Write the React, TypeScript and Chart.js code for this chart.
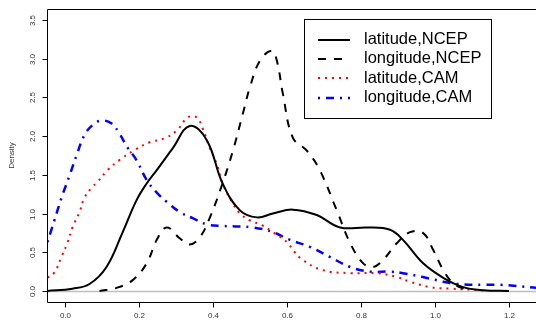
import React, { useEffect, useRef } from "react";
import { Chart, registerables } from "chart.js";

Chart.register(...registerables);

// ---- data ----
const latNcepX = [-0.05, 0.019, 0.065, 0.111, 0.154, 0.192, 0.22, 0.247, 0.29, 0.336, 0.382, 0.425, 0.472, 0.518, 0.561, 0.615, 0.68, 0.743, 0.816, 0.878, 0.913, 0.967, 1.022, 1.076, 1.13, 1.2];
const latNcepY = [0.0, 0.03, 0.09, 0.31, 0.75, 1.17, 1.39, 1.56, 1.84, 2.13, 1.95, 1.39, 1.04, 0.95, 1.0, 1.05, 0.98, 0.82, 0.82, 0.79, 0.66, 0.36, 0.17, 0.05, 0.01, 0.0];

const lonNcepX = [0.092, 0.138, 0.182, 0.22, 0.247, 0.274, 0.309, 0.336, 0.363, 0.39, 0.425, 0.453, 0.48, 0.499, 0.526, 0.558, 0.572, 0.588, 0.615, 0.653, 0.688, 0.734, 0.77, 0.805, 0.832, 0.859, 0.897, 0.932, 0.967, 0.995, 1.022, 1.049, 1.087];
const lonNcepY = [0.0, 0.04, 0.14, 0.36, 0.66, 0.82, 0.68, 0.6, 0.69, 0.94, 1.39, 1.81, 2.29, 2.63, 2.97, 3.1, 2.97, 2.55, 1.98, 1.81, 1.56, 1.04, 0.62, 0.36, 0.31, 0.4, 0.62, 0.76, 0.75, 0.53, 0.27, 0.1, 0.01];

const latCamX = [-0.049, -0.03, -0.011, 0.005, 0.019, 0.038, 0.051, 0.07, 0.087, 0.114, 0.146, 0.187, 0.228, 0.268, 0.301, 0.331, 0.355, 0.371, 0.39, 0.409, 0.425, 0.45, 0.472, 0.499, 0.531, 0.561, 0.602, 0.615, 0.642, 0.696, 0.77, 0.843, 0.897, 0.932, 0.986, 1.041, 1.13];
const latCamY = [0.17, 0.24, 0.44, 0.62, 0.82, 1.02, 1.2, 1.33, 1.41, 1.56, 1.69, 1.82, 1.92, 1.97, 2.07, 2.24, 2.24, 2.1, 1.85, 1.64, 1.39, 1.15, 1.0, 0.91, 0.85, 0.76, 0.62, 0.53, 0.4, 0.27, 0.23, 0.23, 0.18, 0.12, 0.05, 0.03, 0.01];

const lonCamX = [-0.049, -0.03, -0.011, 0.011, 0.03, 0.051, 0.073, 0.098, 0.125, 0.146, 0.168, 0.192, 0.22, 0.247, 0.274, 0.309, 0.344, 0.382, 0.425, 0.507, 0.561, 0.607, 0.661, 0.715, 0.77, 0.824, 0.878, 0.913, 0.967, 1.022, 1.06, 1.13, 1.176, 1.274];
const lonCamY = [0.63, 0.91, 1.2, 1.49, 1.75, 2.01, 2.14, 2.2, 2.16, 2.03, 1.85, 1.69, 1.43, 1.27, 1.15, 1.02, 0.94, 0.86, 0.84, 0.82, 0.76, 0.66, 0.57, 0.44, 0.31, 0.25, 0.25, 0.23, 0.18, 0.12, 0.09, 0.08, 0.08, 0.04];

const seriesNames = ["latitude,NCEP", "longitude,NCEP", "latitude,CAM", "longitude,CAM"];
const xTicks = [0.0, 0.2, 0.4, 0.6, 0.8, 1.0, 1.2];
const yTicks = [0.0, 0.5, 1.0, 1.5, 2.0, 2.5, 3.0, 3.5];
const yTitle = "Density";

const styles = [
  { color: "#000000", dash: [] as number[], width: 2 },
  { color: "#000000", dash: [8, 8], width: 2 },
  { color: "#ff0000", dash: [2, 5], width: 2 },
  { color: "#0000ff", dash: [2, 6, 8, 6], width: 2.5 },
];

const toPts = (xs: number[], ys: number[]) => xs.map((x, i) => ({ x, y: ys[i] }));

const FONT = "'Liberation Sans', Arial, Helvetica, sans-serif";

const rAxesPlugin = {
  id: "rAxes",
  beforeDatasetsDraw(chart: any) {
    const { ctx, chartArea } = chart;
    const y0 = Math.round(chart.scales.y.getPixelForValue(0)) + 0.5;
    ctx.save();
    ctx.strokeStyle = "#bebebe";
    ctx.lineWidth = 1.5;
    ctx.beginPath();
    ctx.moveTo(chartArea.left, y0);
    ctx.lineTo(chartArea.right, y0);
    ctx.stroke();
    ctx.restore();
  },
  afterDraw(chart: any) {
    const { ctx, chartArea } = chart;
    const xs = chart.scales.x;
    const ys = chart.scales.y;
    const L = chartArea.left + 0.5;
    const T = chartArea.top + 0.5;
    const B = chartArea.bottom + 0.5;
    const R = chartArea.right;
    ctx.save();
    ctx.strokeStyle = "#000";
    ctx.lineWidth = 1;
    ctx.beginPath();
    ctx.moveTo(R, T);
    ctx.lineTo(L, T);
    ctx.lineTo(L, B);
    ctx.lineTo(R, B);
    ctx.stroke();

    // y ticks
    ctx.fillStyle = "#333";
    ctx.font = `8px ${FONT}`;
    yTicks.forEach((v) => {
      const py = Math.round(ys.getPixelForValue(v)) + 0.5;
      ctx.beginPath();
      ctx.moveTo(L - 5, py);
      ctx.lineTo(L, py);
      ctx.stroke();
      ctx.save();
      ctx.translate(33, py);
      ctx.rotate(-Math.PI / 2);
      ctx.textAlign = "center";
      ctx.textBaseline = "middle";
      ctx.fillText(v.toFixed(1), 0, 0);
      ctx.restore();
    });
    // x ticks
    xTicks.forEach((v) => {
      const px = Math.round(xs.getPixelForValue(v)) + 0.5;
      ctx.beginPath();
      ctx.moveTo(px, B);
      ctx.lineTo(px, B + 5);
      ctx.stroke();
      ctx.textAlign = "center";
      ctx.textBaseline = "middle";
      ctx.fillText(v.toFixed(1), px, 316);
    });
    // y title
    ctx.save();
    ctx.translate(12, (chartArea.top + chartArea.bottom) / 2);
    ctx.rotate(-Math.PI / 2);
    ctx.textAlign = "center";
    ctx.textBaseline = "middle";
    ctx.font = `8px ${FONT}`;
    ctx.fillText(yTitle, 0, 0);
    ctx.restore();

    // legend
    const bx = 304.5, by = 19.5, bw = 187, bh = 99;
    ctx.fillStyle = "#fff";
    ctx.fillRect(bx, by, bw, bh);
    ctx.strokeStyle = "#000";
    ctx.lineWidth = 1;
    ctx.strokeRect(bx, by, bw, bh);
    ctx.font = `16.5px ${FONT}`;
    ctx.textAlign = "left";
    ctx.textBaseline = "middle";
    seriesNames.forEach((name, i) => {
      const ly = 39.5 + i * 19.4;
      const st = styles[i];
      ctx.strokeStyle = st.color;
      ctx.lineWidth = st.width;
      ctx.setLineDash(st.dash);
      ctx.beginPath();
      ctx.moveTo(318, Math.round(ly));
      ctx.lineTo(350, Math.round(ly));
      ctx.stroke();
      ctx.setLineDash([]);
      ctx.fillStyle = "#000";
      ctx.fillText(name, 364, ly);
    });
    ctx.restore();
  },
};

export default function App() {
  const ref = useRef<HTMLCanvasElement | null>(null);
  useEffect(() => {
    if (!ref.current) return;
    const seriesX = [latNcepX, lonNcepX, latCamX, lonCamX];
    const seriesY = [latNcepY, lonNcepY, latCamY, lonCamY];
    const chart = new Chart(ref.current, {
      type: "scatter",
      data: {
        datasets: seriesNames.map((name, i) => ({
          label: name,
          data: toPts(seriesX[i], seriesY[i]),
          showLine: true,
          pointRadius: 0,
          borderColor: styles[i].color,
          backgroundColor: styles[i].color,
          borderWidth: styles[i].width,
          borderDash: styles[i].dash,
          tension: 0.4,
          fill: false,
        })),
      },
      options: {
        animation: false,
        responsive: false,
        maintainAspectRatio: false,
        layout: { padding: { left: 47, top: 9, right: 0, bottom: 22 } },
        plugins: { legend: { display: false }, tooltip: { enabled: false } },
        scales: {
          x: { type: "linear", min: -0.05, max: 1.273, display: false },
          y: { type: "linear", min: -0.142, max: 3.639, display: false },
        },
      },
      plugins: [rAxesPlugin],
    });
    return () => chart.destroy();
  }, []);
  return (
    <div style={{ position: "fixed", left: 0, top: 0, width: 536, height: 324, background: "#fff" }}>
      <canvas ref={ref} width={536} height={324} style={{ display: "block" }} />
    </div>
  );
}
